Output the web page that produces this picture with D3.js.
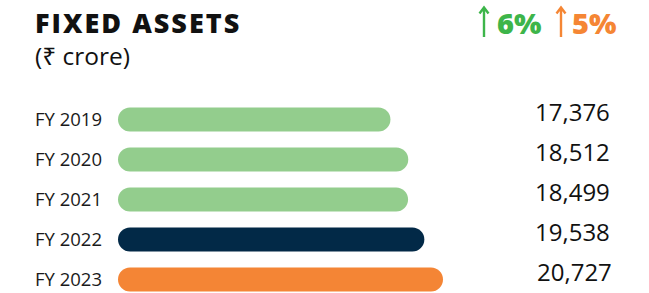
<!DOCTYPE html>
<html>
<head>
<meta charset="utf-8">
<script src="https://cdn.jsdelivr.net/npm/d3@7"></script>
<style>
  body { margin: 0; background: #fff; }
  #graph text { font-family: "Open Sans", "Noto Sans", sans-serif; }
</style>
</head>
<body>
<div id="graph"></div>
<script>
// data
const years = ["FY 2019", "FY 2020", "FY 2021", "FY 2022", "FY 2023"];
const values = [17376, 18512, 18499, 19538, 20727];
const valueLabels = ["17,376", "18,512", "18,499", "19,538", "20,727"];
const barColors = ["#93cd8d", "#93cd8d", "#93cd8d", "#022947", "#f48535"];
const growthLabels = ["6%", "5%"];
const growthColors = ["#3db54a", "#f58634"];

const width = 649;
const height = 293;

//setup and return svg
function setupSVG() {
  return d3
    .select("#graph")
    .append("svg")
    .attr("width", width)
    .attr("height", height);
}

function addTitle(svg) {
  svg
    .append("text")
    .attr("x", 35)
    .attr("y", 33)
    .style("font-size", "27px")
    .style("font-weight", "800")
    .style("letter-spacing", "2px")
    .attr("fill", "#111")
    .text("FIXED ASSETS");

  svg
    .append("text")
    .attr("x", 35)
    .attr("y", 65)
    .style("font-size", "24.5px")
    .attr("fill", "#111")
    .text("(₹ crore)");
}

//growth arrows top right
function addGrowth(svg) {
  const xs = [484, 561];
  const g = svg
    .selectAll(".growth")
    .data(growthLabels)
    .enter()
    .append("g")
    .attr("class", "growth")
    .attr("transform", (d, i) => "translate(" + xs[i] + ",0)");

  g.append("path")
    .attr("d", "M0,37 L0,8 M-4.5,13.5 L0,7.5 L4.5,13.5")
    .attr("fill", "none")
    .attr("stroke", (d, i) => growthColors[i])
    .attr("stroke-width", 2.4);

  g.append("text")
    .attr("x", (d, i) => (i === 0 ? 13 : 11))
    .attr("y", 34)
    .style("font-size", "29px")
    .style("font-weight", "800")
    .attr("fill", (d, i) => growthColors[i])
    .text((d) => d);
}

function addBars(svg, x, y, barHeight) {
  svg
    .append("g")
    .selectAll("rect")
    .data(years)
    .enter()
    .append("rect")
    .attr("x", x(0))
    .attr("y", (d) => y(d) - barHeight / 2)
    .attr("width", (d, i) => x(values[i]) - x(0))
    .attr("height", barHeight)
    .attr("rx", barHeight / 2)
    .attr("fill", (d, i) => barColors[i]);

  // year labels on the left
  svg
    .append("g")
    .selectAll("text")
    .data(years)
    .enter()
    .append("text")
    .attr("x", 35)
    .attr("y", (d) => y(d) + 6)
    .style("font-size", "18.5px")
    .attr("fill", "#1a1a1a")
    .text((d) => d);

  // values on the right
  svg
    .append("g")
    .selectAll("text")
    .data(valueLabels)
    .enter()
    .append("text")
    .attr("x", (d, i) => (i === 4 ? 537 : 535))
    .attr("y", (d, i) => y(years[i]) + 1.5)
    .style("font-size", "24px")
    .attr("fill", "#111")
    .text((d) => d);
}

const svg = setupSVG();
const x = d3.scaleLinear().domain([0, d3.max(values)]).range([118, 443]);
const y = d3.scalePoint().domain(years).range([119.5, 279.5]);

addTitle(svg);
addGrowth(svg);
addBars(svg, x, y, 24);
</script>
</body>
</html>
